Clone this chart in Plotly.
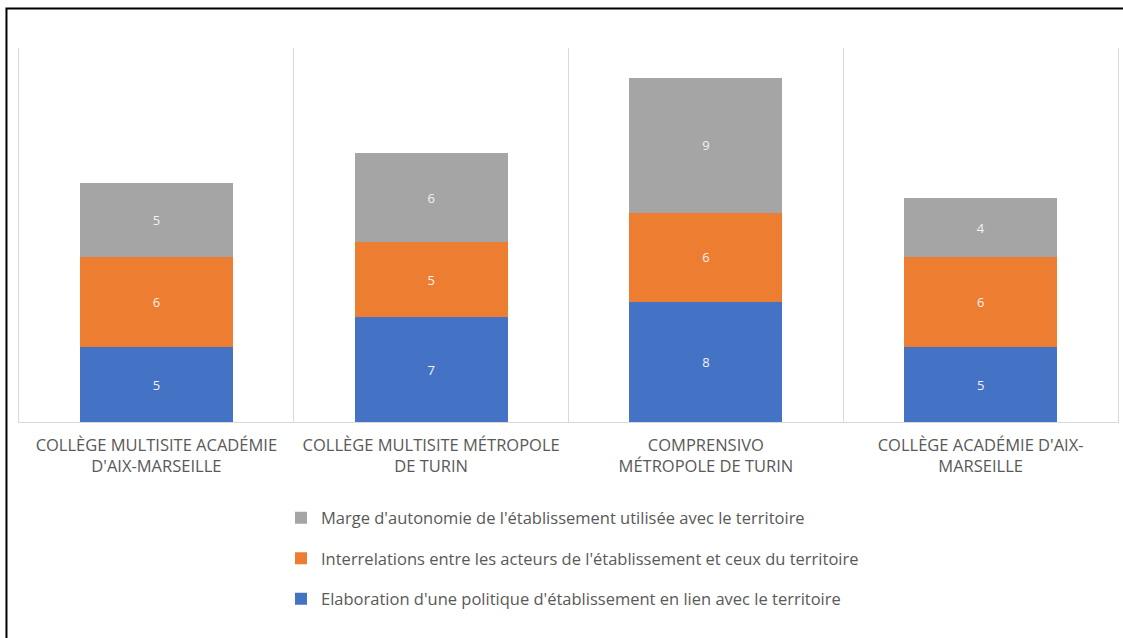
import plotly.graph_objects as go

categories = [
    "COLLÈGE MULTISITE ACADÉMIE<br>D'AIX-MARSEILLE",
    "COLLÈGE MULTISITE MÉTROPOLE<br>DE TURIN",
    "COMPRENSIVO<br>MÉTROPOLE DE TURIN",
    "COLLÈGE ACADÉMIE D'AIX-<br>MARSEILLE",
]
series_names = [
    "Elaboration d'une politique d'établissement en lien avec le territoire",
    "Interrelations entre les acteurs de l'établissement et ceux du territoire",
    "Marge d'autonomie de l'établissement utilisée avec le territoire",
]
elaboration = [5, 7, 8, 5]
interrelations = [6, 5, 6, 6]
marge = [5, 6, 9, 4]
colors = ["#4472C4", "#ED7D31", "#A5A5A5"]

FONT = "Open Sans"
fig = go.Figure()
for i, (name, vals) in enumerate(zip(series_names, [elaboration, interrelations, marge])):
    fig.add_trace(go.Bar(
        x=categories, y=vals, name=name,
        marker=dict(color=colors[i], line=dict(width=0)),
        text=[str(v) for v in vals], textposition="inside",
        insidetextanchor="middle",
        textfont=dict(color="#f2f2f2", size=13, family=FONT),
        legendgroup=f"g{i}", legendrank=3 - i,
    ))

fig.update_layout(
    barmode="stack",
    bargap=0.444,
    width=1123, height=638,
    margin=dict(l=19, r=5, t=48, b=216),
    plot_bgcolor="white", paper_bgcolor="white",
    font=dict(family=FONT, color="#595959"),
    xaxis=dict(
        type="category", tickson="boundaries", showgrid=True,
        gridcolor="#d9d9d9", gridwidth=1,
        showline=True, linecolor="#d9d9d9", linewidth=1,
        ticks="", tickfont=dict(size=16.5, color="#595959", family=FONT),
        ticklabelstandoff=8,
        range=[-0.5, 3.5],
    ),
    yaxis=dict(range=[0, 25], showgrid=False, showticklabels=False,
               zeroline=False, showline=True, mirror=True,
               linecolor="#d9d9d9", linewidth=1),
    showlegend=True,
    legend=dict(
        orientation="v", traceorder="grouped", tracegroupgap=16,
        x=0.2384, xanchor="left", y=-0.21, yanchor="top",
        font=dict(size=16.5, color="#595959", family=FONT),
        bgcolor="rgba(0,0,0,0)",
    ),
    shapes=[dict(
        type="rect", xref="paper", yref="paper",
        x0=-0.0114, x1=1.012, y0=-0.6, y1=1.1056,
        line=dict(color="black", width=2), fillcolor="rgba(0,0,0,0)",
        layer="above",
    )],
)

fig.write_html("out.html")
